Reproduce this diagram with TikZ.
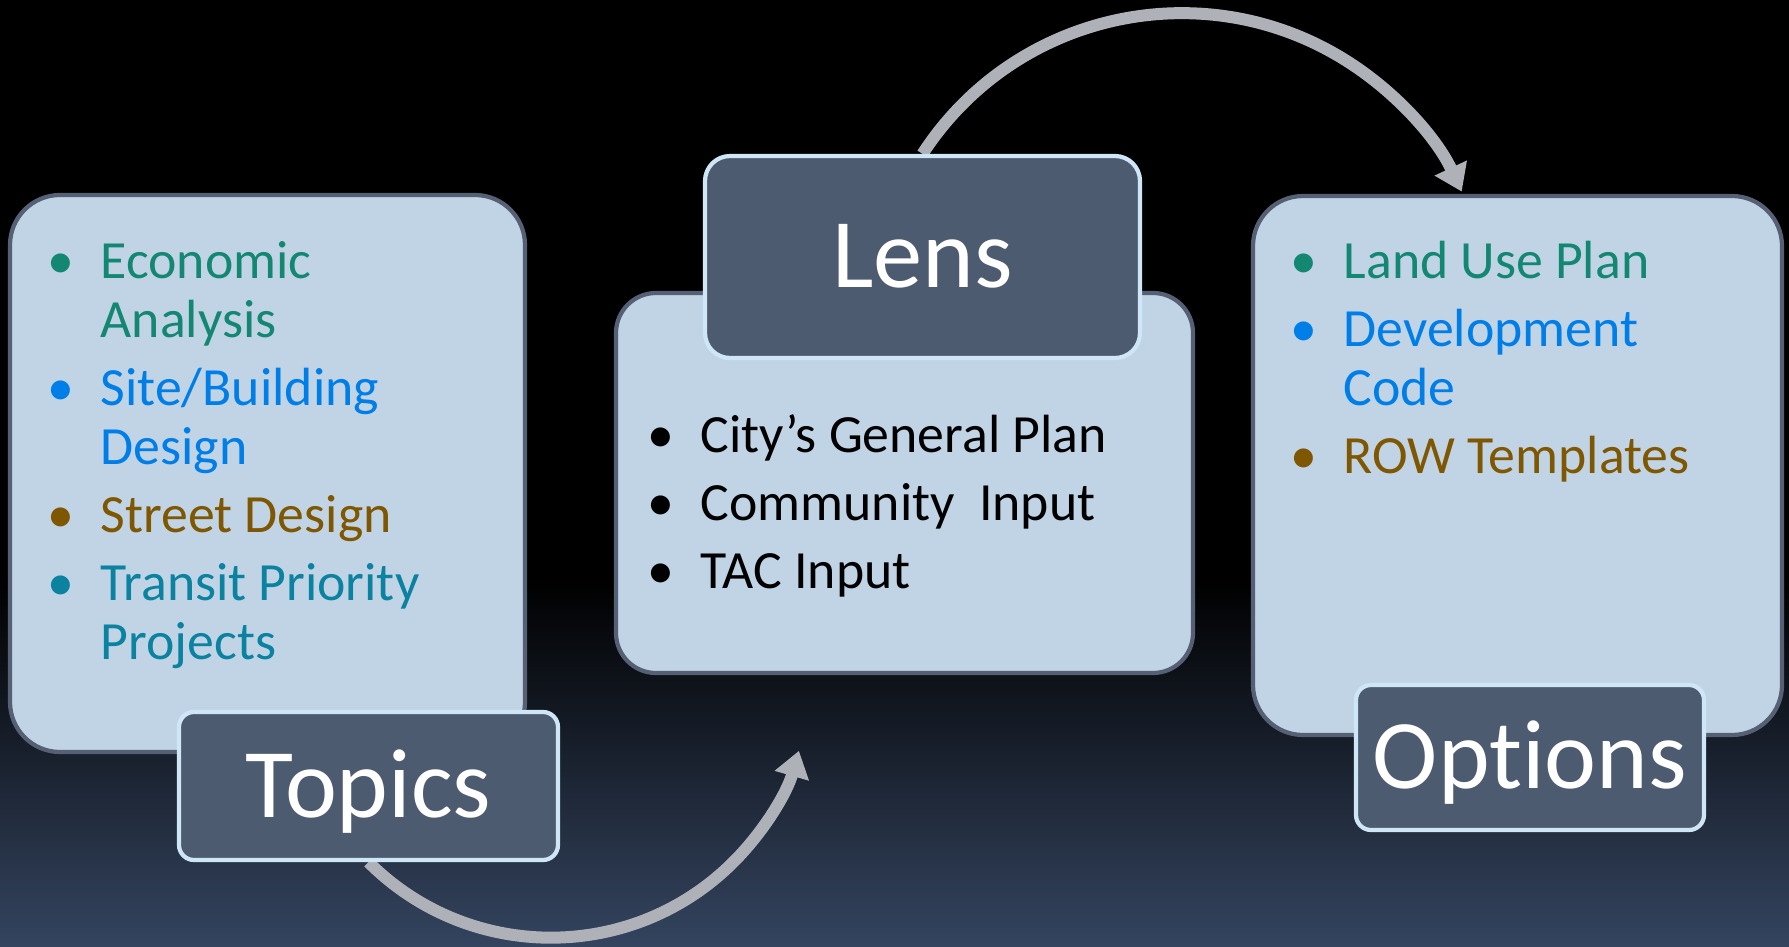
\documentclass[tikz,border=0pt]{standalone}
\usepackage{fontspec}
\setmainfont{Carlito}[Ligatures=NoCommon]
\usetikzlibrary{arrows.meta}

\definecolor{panelfill}{RGB}{192,212,230}
\definecolor{panelline}{RGB}{85,96,117}
\definecolor{tagfill}{RGB}{77,91,112}
\definecolor{tagline}{RGB}{207,230,247}
\definecolor{arrowgray}{RGB}{175,177,185}
\definecolor{bgbottom}{RGB}{52,68,95}
\definecolor{ecogreen}{RGB}{20,135,115}
\definecolor{siteblue}{RGB}{0,126,232}
\definecolor{streetbrown}{RGB}{127,87,0}
\definecolor{transitteal}{RGB}{10,130,160}

\newcommand{\listrow}[2]{\makebox[0.53cm][l]{\textcolor{#1}{•}} & \textcolor{#1}{#2}}

\pgfdeclarelayer{back}
\pgfsetlayers{back,main}

\begin{document}
\begin{tikzpicture}[
        panel/.style={draw=panelline, line width=1.2pt, fill=panelfill, rounded corners=0.5cm, inner sep=0pt},
        tag/.style={draw=tagline, line width=1.2pt, fill=tagfill, rounded corners=0.15cm, text=white,
            font=\fontsize{28}{30}\selectfont, text height=0.62cm, text depth=0pt, inner sep=0pt},
        listtext/.style={inner sep=0pt, anchor=base west, font=\fontsize{15.3}{16.8}\selectfont},
        flow/.style={draw=arrowgray, line width=0.12cm, -{Triangle[length=0.26cm, width=0.34cm]}}
    ]

        \def\gap{2.6pt}

        \useasboundingbox (0,0) rectangle (17.89,9.46);
        \begin{pgfonlayer}{back}
            \fill [black] (0,3.6) rectangle (17.89,9.46);
            \shade [top color=black, bottom color=bgbottom] (0,0) rectangle (17.89,3.66);
        \end{pgfonlayer}

        \node [panel, minimum width=5.15cm, minimum height=5.57cm] (topicbox) at (2.675,4.725) {};
        \node [panel, rounded corners=0.4cm, minimum width=5.77cm, minimum height=3.80cm] (lensbox) at (9.045,4.63) {};
        \node [panel, minimum width=5.29cm, minimum height=5.39cm] (optionbox) at (15.175,4.805) {};

        \node [listtext] (topiclist) at (0.47,6.68) {\begin{tabular}[t]{@{}l@{}l@{}}
            \listrow{ecogreen}{Economic}\\
             & \textcolor{ecogreen}{Analysis}\\[\gap]
            \listrow{siteblue}{Site/Building}\\
             & \textcolor{siteblue}{Design}\\[\gap]
            \listrow{streetbrown}{Street Design}\\[\gap]
            \listrow{transitteal}{Transit Priority}\\
             & \textcolor{transitteal}{Projects}
        \end{tabular}};

        \node [listtext] (lenslist) at (6.47,4.94) {\begin{tabular}[t]{@{}l@{}l@{}}
            \listrow{black}{City’s General Plan}\\[\gap]
            \listrow{black}{Community\ \ Input}\\[\gap]
            \listrow{black}{TAC Input}
        \end{tabular}};

        \node [listtext] (optionlist) at (12.90,6.68) {\begin{tabular}[t]{@{}l@{}l@{}}
            \listrow{ecogreen}{Land Use Plan}\\[\gap]
            \listrow{siteblue}{Development}\\
             & \textcolor{siteblue}{Code}\\[\gap]
            \listrow{streetbrown}{ROW Templates}
        \end{tabular}};

        \node [tag, minimum width=3.79cm, minimum height=1.48cm] (topics) at (3.685,1.60) {Topics};
        \node [tag, rounded corners=0.25cm, minimum width=4.35cm, minimum height=2.02cm] (lens) at (9.225,6.89) {Lens};
        \node [tag, minimum width=3.48cm, minimum height=1.45cm] (options) at (15.30,1.885) {Options};

        \begin{pgfonlayer}{back}
            \draw [flow] (topics.south) arc [start angle=225, end angle=344, radius=2.58];
            \draw [flow] (lens.north) arc [start angle=147, end angle=25, radius=3.09];
        \end{pgfonlayer}

    \end{tikzpicture}
\end{document}
